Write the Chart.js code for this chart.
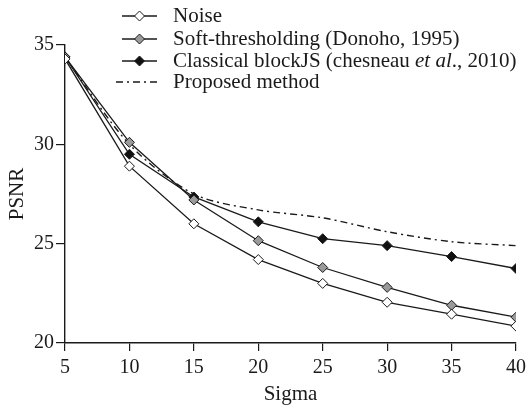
<!DOCTYPE html>
<html>
<head>
<meta charset="utf-8">
<script src="https://cdn.jsdelivr.net/npm/chart.js@4.4.1/dist/chart.umd.min.js"></script>
<style>
  html, body { margin: 0; padding: 0; background: #fff; }
  #wrap { width: 531px; height: 408px; }
</style>
</head>
<body>
<div id="wrap"><canvas id="psnrChart" width="531" height="408"></canvas></div>
<script>
// values
const sigma = [5, 10, 15, 20, 25, 30, 35, 40];
const noise = [34.3, 28.9, 26.0, 24.2, 23.0, 22.05, 21.45, 20.85];
const softThr = [34.4, 30.1, 27.2, 25.15, 23.8, 22.8, 21.9, 21.3];
const blockJS = [34.4, 29.5, 27.35, 26.1, 25.25, 24.9, 24.35, 23.75];
const proposed = [34.4, 30.0, 27.5, 26.7, 26.3, 25.6, 25.1, 24.9];
const xTicks = [5, 10, 15, 20, 25, 30, 35, 40];
const yTicks = [20, 25, 30, 35];
const labels = [
  "Noise",
  "Soft-thresholding (Donoho, 1995)",
  "Classical blockJS (chesneau et al., 2010)",
  "Proposed method",
];

const FONT = "'Liberation Serif', 'Times New Roman', serif";
const INK = "#1a1a1a";

const toPoints = arr => arr.map((v, i) => ({ x: sigma[i], y: v }));

function markerSeries(label, values, fill) {
  return {
    label: label,
    data: toPoints(values),
    borderColor: INK,
    borderWidth: 1.3,
    pointStyle: "rectRot",
    pointRadius: 5,
    pointBackgroundColor: fill,
    pointBorderColor: INK,
    pointBorderWidth: 1,
    tension: 0,
    fill: false,
  };
}

const datasets = [
  markerSeries(labels[0], noise, "#ffffff"),
  markerSeries(labels[1], softThr, "#9a9a9a"),
  markerSeries(labels[2], blockJS, "#111111"),
  {
    label: labels[3],
    data: toPoints(proposed),
    borderColor: INK,
    borderWidth: 1.4,
    borderDash: [7, 4, 2, 4],
    pointRadius: 0,
    tension: 0.3,
    fill: false,
  },
];

// legend drawn by hand: line sample + diamond + text (italic "et al")
const legendPlugin = {
  id: "paperLegend",
  afterDraw(chart) {
    const c = chart.ctx;
    const rows = [16, 39, 61, 82];
    const x0 = 122, x1 = 157, tx = 173;
    c.save();
    c.font = "21px " + FONT;
    c.textBaseline = "middle";
    chart.data.datasets.forEach((ds, i) => {
      const y = rows[i];
      c.strokeStyle = INK;
      c.lineWidth = 1.3;
      c.setLineDash(ds.borderDash || []);
      c.beginPath();
      c.moveTo(i === 3 ? 116 : x0, y);
      c.lineTo(x1, y);
      c.stroke();
      c.setLineDash([]);
      if (ds.pointRadius) {
        const cx = (x0 + x1) / 2, r = 5;
        c.fillStyle = ds.pointBackgroundColor;
        c.lineWidth = 1;
        c.beginPath();
        c.moveTo(cx, y - r); c.lineTo(cx + r, y); c.lineTo(cx, y + r); c.lineTo(cx - r, y); c.closePath();
        c.fill(); c.stroke();
      }
      c.fillStyle = INK;
      if (i === 2) {
        let x = tx;
        const parts = [["Classical blockJS (chesneau ", false], ["et al", true], ["., 2010)", false]];
        parts.forEach(([t, it]) => {
          c.font = (it ? "italic " : "") + "21px " + FONT;
          c.fillText(t, x, y);
          x += c.measureText(t).width;
        });
        c.font = "21px " + FONT;
      } else {
        c.fillText(ds.label, tx, y);
      }
    });
    c.restore();
  },
};

const ctx = document.getElementById("psnrChart").getContext("2d");

const config = {
  type: "line",
  data: { datasets: datasets },
  options: {
    responsive: false,
    animation: false,
    layout: { padding: { top: 45, right: 10, left: 0, bottom: 0 } },
    plugins: {
      legend: { display: false },
      tooltip: { enabled: false },
    },
    scales: {
      x: {
        type: "linear",
        min: 5,
        max: 40,
        afterBuildTicks: s => { s.ticks = xTicks.map(v => ({ value: v })); },
        afterFit: s => { s.height = 65; },
        border: { display: true, color: INK, width: 1.4 },
        grid: { drawOnChartArea: false, drawTicks: true, tickLength: 8, color: INK, lineWidth: 1.2 },
        ticks: { color: INK, padding: 5, font: { family: FONT, size: 20 } },
        title: { display: true, text: "Sigma", color: INK, padding: { top: 0, bottom: 1 }, font: { family: FONT, size: 21 } },
      },
      y: {
        min: 20,
        max: 35,
        afterBuildTicks: s => { s.ticks = yTicks.map(v => ({ value: v })); },
        afterFit: s => { s.width = 65; },
        border: { display: true, color: INK, width: 1.4 },
        grid: { drawOnChartArea: false, drawTicks: true, tickLength: 9, color: INK, lineWidth: 1.2 },
        ticks: { color: INK, padding: 2, font: { family: FONT, size: 20 } },
        title: { display: true, text: "PSNR", color: INK, padding: { top: 5, bottom: 0 }, font: { family: FONT, size: 21 } },
      },
    },
  },
  plugins: [legendPlugin],
};

const psnrChart = new Chart(ctx, config);
</script>
</body>
</html>
